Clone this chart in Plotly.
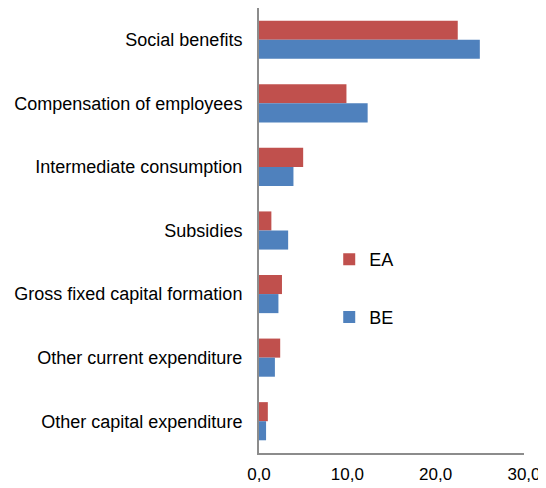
import plotly.graph_objects as go

# ---------- data ----------
categories = [
    "Social benefits",
    "Compensation of employees",
    "Intermediate consumption",
    "Subsidies",
    "Gross fixed capital formation",
    "Other current expenditure",
    "Other capital expenditure",
]
ea_values = [22.5, 9.9, 5.0, 1.4, 2.6, 2.4, 1.0]
be_values = [25.0, 12.3, 3.9, 3.3, 2.2, 1.8, 0.8]
x_ticks = [0, 10, 20, 30]

# ---------- style ----------
RED = "#C0504D"
BLUE = "#4F81BD"
AXIS_GREY = "#8C8C8C"
FONT = dict(family="Liberation Sans, Arial, sans-serif", size=18, color="#000000")

fig = go.Figure()
fig.add_trace(go.Bar(
    y=categories, x=ea_values, name="EA", orientation="h",
    marker=dict(color=RED, line=dict(width=0)),
    legend="legend", showlegend=True,
))
fig.add_trace(go.Bar(
    y=categories, x=be_values, name="BE", orientation="h",
    marker=dict(color=BLUE, line=dict(width=0)),
    legend="legend2", showlegend=True,
))

# page body has an 8px margin, so the figure is sized/offset to compensate
fig.update_layout(
    width=538, height=480,
    margin=dict(l=251, r=22, t=0, b=35, autoexpand=False),
    paper_bgcolor="white", plot_bgcolor="white",
    font=FONT,
    separators=",.",
    showlegend=True,
    barmode="group",
    bargap=0.4,
    bargroupgap=0,
    xaxis=dict(
        range=[0, 30], tickvals=x_ticks, tickformat=".1f",
        tickfont=dict(size=17),
        showgrid=False, zeroline=False,
        showline=True, linecolor=AXIS_GREY, linewidth=2,
        ticks="", ticklabelstandoff=5,
    ),
    yaxis=dict(
        autorange="reversed",
        showgrid=False, zeroline=False,
        showline=True, linecolor=AXIS_GREY, linewidth=2,
        ticks="", ticklabelstandoff=11,
    ),
    legend=dict(x=0.265, y=0.435, xanchor="left", yanchor="middle",
                bgcolor="rgba(0,0,0,0)", itemwidth=30, font=FONT),
    legend2=dict(x=0.265, y=0.305, xanchor="left", yanchor="middle",
                 bgcolor="rgba(0,0,0,0)", itemwidth=30, font=FONT),
)

fig.write_html("out.html")
